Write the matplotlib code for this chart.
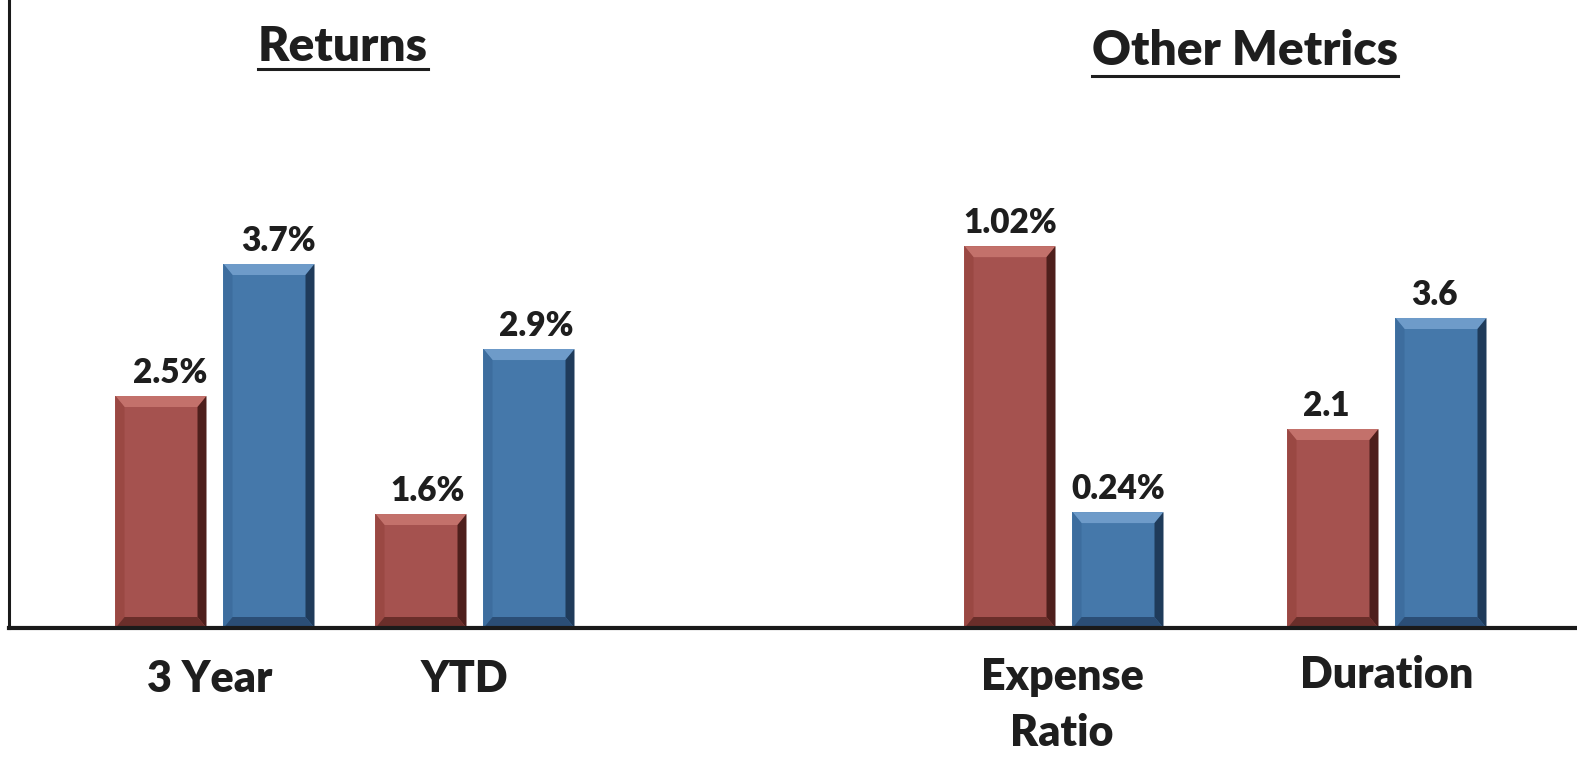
import matplotlib
matplotlib.use("Agg")
import matplotlib.pyplot as plt
from matplotlib.patches import Polygon
from matplotlib.lines import Line2D

plt.rcParams['font.family'] = ['Lato', 'DejaVu Sans']

# ---------------- data ----------------
categories = ["3 Year", "YTD", "Expense\nRatio", "Duration"]
red_values = [2.5, 1.6, 1.02, 2.1]
blue_values = [3.7, 2.9, 0.24, 3.6]
red_labels = ["2.5%", "1.6%", "1.02%", "2.1"]
blue_labels = ["3.7%", "2.9%", "0.24%", "3.6"]
section_titles = ["Returns", "Other Metrics"]

# ---------------- layout / style ----------------
W, H = 1577, 758
BASE_PX = 628          # baseline y (pixels from top)
LEFT_PX = 8.5
group_centers = [215, 475, 1064, 1387]     # pixel x
label_shift = [9, 7, 0, -7]                # value label x nudge (px)
cat_shift = [-5, -11, -2, 0]               # category label x nudge (px)
bar_offset = 54
bar_width = 91
# each category drawn on its own value scale (ylim bottom, top)
ylims = [(0.391, 6.100), (0.702, 5.650), (-0.100, 1.742), (-0.589, 7.897)]

red_face, red_top, red_left, red_right, red_bot = "#A5524F", "#C3716B", "#9A4843", "#4E1F1C", "#6A2E2A"
blue_face, blue_top, blue_left, blue_right, blue_bot = "#4578AA", "#6E9BC9", "#3D6D9E", "#1F3B5A", "#2B4E76"

fig = plt.figure(figsize=(W / 100, H / 100), dpi=100)
ax = fig.add_axes([LEFT_PX / W, (H - BASE_PX) / H, 1 - LEFT_PX / W, BASE_PX / H])
ax.set_xlim(LEFT_PX, W)
axes = [ax] + [ax.twinx() for _ in range(3)]

for a in axes:
    a.set_yticks([])
    a.set_xticks([])
    for s in a.spines.values():
        s.set_visible(False)
    a.patch.set_visible(False)

ax.spines['left'].set_visible(True)
ax.spines['left'].set_linewidth(2.2)
ax.spines['left'].set_color('#1a1a1a')

bev_x = 9   # px
bev_y = 11  # px


def bevel(a, x0, x1, y0, y1, cols):
    lo, hi = a.get_ylim()
    by = bev_y * (hi - lo) / BASE_PX
    bx = bev_x
    top_c, left_c, right_c, bot_c = cols
    polys = [
        ([(x0, y1), (x1, y1), (x1 - bx, y1 - by), (x0 + bx, y1 - by)], top_c),
        ([(x0, y0), (x0, y1), (x0 + bx, y1 - by), (x0 + bx, y0 + by)], left_c),
        ([(x1, y0), (x1, y1), (x1 - bx, y1 - by), (x1 - bx, y0 + by)], right_c),
        ([(x0, y0), (x1, y0), (x1 - bx, y0 + by), (x0 + bx, y0 + by)], bot_c),
    ]
    for pts, c in polys:
        a.add_patch(Polygon(pts, closed=True, facecolor=c, edgecolor='none', zorder=3))


for i, a in enumerate(axes):
    lo, hi = ylims[i]
    a.set_ylim(lo, hi)
    a.set_xlim(LEFT_PX, W)
    xc = group_centers[i]
    xs = [xc - bar_offset, xc + bar_offset]
    vals = [red_values[i], blue_values[i]]
    faces = [red_face, blue_face]
    bevs = [(red_top, red_left, red_right, red_bot), (blue_top, blue_left, blue_right, blue_bot)]
    labs = [red_labels[i], blue_labels[i]]
    for x, v, fc, bc, lab in zip(xs, vals, faces, bevs, labs):
        a.bar(x, v - lo, bottom=lo, width=bar_width, color=fc, edgecolor='none', zorder=2)
        bevel(a, x - bar_width / 2, x + bar_width / 2, lo, v, bc)
        a.annotate(lab, (x, v), xytext=(label_shift[i], 13), textcoords='offset pixels',
                   ha='center', va='baseline', fontsize=24, fontweight='heavy',
                   color='#1e1e1e', zorder=5)

# baseline
fig.add_artist(Line2D([LEFT_PX / W, 1], [(H - BASE_PX) / H] * 2, color='#1a1a1a',
                      linewidth=3.0, transform=fig.transFigure, zorder=10))

# category labels
cat_baselines = [692, 692, 690, 688]
for xc, dx, name, yb in zip(group_centers, cat_shift, categories, cat_baselines):
    lines = name.split("\n")
    for k, ln in enumerate(lines):
        fig.text((xc + dx) / W, (H - (yb + 56 * k)) / H, ln, ha='center', va='baseline',
                 fontsize=31, fontweight='heavy', color='#1e1e1e')

# section titles with underline
title_pos = [(343, 61, 69), (1245, 65, 76)]
renderer = fig.canvas.get_renderer()
for t, (xc, yb, yu) in zip(section_titles, title_pos):
    txt = fig.text(xc / W, (H - yb) / H, t, ha='center', va='baseline',
                   fontsize=34.5, fontweight='heavy', color='#1e1e1e')
    bb = txt.get_window_extent(renderer)
    fig.add_artist(Line2D([bb.x0 / W, bb.x1 / W], [(H - yu) / H] * 2,
                          color='#1e1e1e', linewidth=2.2, transform=fig.transFigure))

fig.savefig("out.png", dpi=100)
